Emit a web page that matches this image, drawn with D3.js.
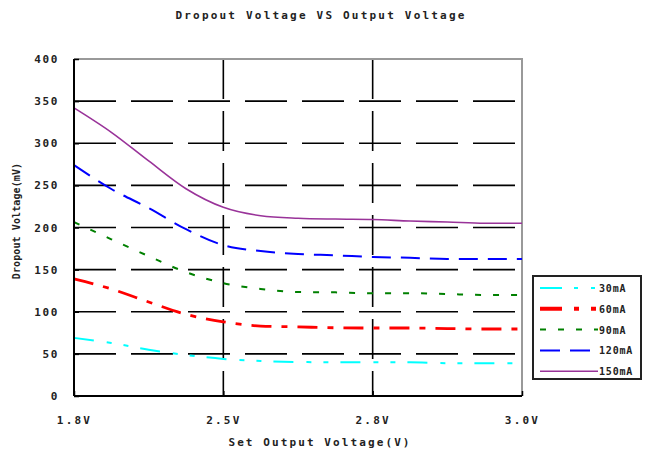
<!DOCTYPE html>
<html><head><meta charset="utf-8">
<script src="https://cdn.jsdelivr.net/npm/d3@7"></script>
<style>
html,body{margin:0;padding:0;background:#fff;}
text{font-family:"DejaVu Sans Mono","Liberation Mono",monospace;font-weight:bold;fill:#222;}
</style></head>
<body><svg id="c" width="646" height="456"></svg>
<script>
// ---- data ----
const xIndex = [0,1,2,3,4,5,6,7,8,9,10,11,12];
const xTickIdx = [0,4,8,12];
const xTickLabels = ["1.8V","2.5V","2.8V","3.0V"];
const yTicks = [0,50,100,150,200,250,300,350,400];
const seriesNames = ["30mA","60mA","90mA","120mA","150mA"];
const s30  = [69,63,55,48.7,44,41.5,40.4,40,40,40,39,39,39];
const s60  = [139,127,111.6,97,88,83,82,81,80.7,80.7,80,79.5,79.5];
const s90  = [206.5,186,166,147,134,127,123.4,123,122,122,121,120,120];
const s120 = [274,245.7,223,198,179,172,168.5,167,165,164,162.6,162.6,162.6];
const s150 = [342,313,279,246,224,214,211,210,209.5,207.7,206.5,205,205];
const allSeries = [s30,s60,s90,s120,s150];

// ---- styles ----
const styles = [
  {color:"#00ffff", w:2,   dash:"20,13,5,12,5,12"},
  {color:"#ff0000", w:2.8, dash:"20,10,6,10"},
  {color:"#008000", w:2,   dash:"6,12"},
  {color:"#0000ff", w:2,   dash:"19,10"},
  {color:"#993399", w:1.6, dash:null}
];

const svg = d3.select("#c");
const L=74, R=522, T=59, B=396;
const x = d3.scaleLinear().domain([0,12]).range([L,R]);
const y = d3.scaleLinear().domain([0,400]).range([B,T]);

// title
svg.append("text").attr("x",321).attr("y",19).attr("text-anchor","middle")
  .style("font-size","11px").style("letter-spacing","2.2px")
  .text("Dropout Voltage VS  Output Voltage");

// horizontal grid
svg.append("g").selectAll("line").data(yTicks.filter(v=>v>0&&v<400)).join("line")
  .attr("x1",L).attr("x2",R).attr("y1",d=>y(d)).attr("y2",d=>y(d))
  .attr("stroke","#000").attr("stroke-width",1.6).attr("stroke-dasharray","42,15");
// vertical grid
svg.append("g").selectAll("line").data(xTickIdx.slice(1,3)).join("line")
  .attr("x1",d=>x(d)).attr("x2",d=>x(d)).attr("y1",T).attr("y2",B)
  .attr("stroke","#000").attr("stroke-width",1.6).attr("stroke-dasharray","40,12");

// frame top/right gray
svg.append("path").attr("d",`M${L},${T}H${R}V${B}`).attr("fill","none")
  .attr("stroke","#999").attr("stroke-width",2);

// series
const line = d3.line().curve(d3.curveMonotoneX).x((d,i)=>x(xIndex[i])).y(d=>y(d));
allSeries.forEach((s,k)=>{
  const st=styles[k];
  const p=svg.append("path").datum(s).attr("d",line).attr("fill","none")
    .attr("stroke",st.color).attr("stroke-width",st.w);
  if(st.dash) p.attr("stroke-dasharray",st.dash);
});

// axes
const yAxis = d3.axisLeft(y).tickValues(yTicks).tickSize(-5).tickPadding(15).tickFormat(d3.format("d"));
const gy = svg.append("g").attr("transform",`translate(${L},0)`).call(yAxis);
const xAxis = d3.axisBottom(x).tickValues(xTickIdx).tickSize(-5).tickPadding(20)
  .tickFormat((d,i)=>xTickLabels[i]);
const gx = svg.append("g").attr("transform",`translate(0,${B})`).call(xAxis);
[gx,gy].forEach(g=>{
  g.selectAll(".domain").attr("stroke","#000").attr("stroke-width",2);
  g.selectAll(".tick line").attr("stroke","#000").attr("stroke-width",1.5);
  g.selectAll("text").style("font-size","11px").style("font-family","DejaVu Sans Mono").style("font-weight","bold").attr("fill","#222");
});
gy.selectAll("text").style("letter-spacing","1.6px");
gx.selectAll("text").style("letter-spacing","2.2px");
gx.select(".domain").attr("d",`M${L},0H${R}`);
gy.select(".domain").attr("d",`M0,${B}V${T}`);

// axis titles
svg.append("text").attr("x",320).attr("y",446).attr("text-anchor","middle")
  .style("font-size","11px").style("letter-spacing","2.1px").text("Set Output Voltage(V)");
svg.append("text").attr("transform","translate(20,221) rotate(-90)").attr("text-anchor","middle")
  .style("font-size","10px").style("letter-spacing","0.1px").text("Dropout Voltage(mV)");

// legend
const lg = svg.append("g");
lg.append("rect").attr("x",533).attr("y",276).attr("width",108).attr("height",103)
  .attr("fill","#fff").attr("stroke","#222").attr("stroke-width",2);
seriesNames.forEach((n,k)=>{
  const yy = 288 + k*20.8;
  const st=styles[k];
  const l=lg.append("line").attr("x1",540).attr("x2",598).attr("y1",yy).attr("y2",yy)
    .attr("stroke",st.color).attr("stroke-width",k===1?4:st.w);
  if(st.dash) l.attr("stroke-dasharray", k===0?"22,12,4,13,4,13":k===1?"22,12,5,12,5,12":k===2?"6,12":"20,10");
  lg.append("text").attr("x",599).attr("y",yy+4).style("font-size","10px").style("letter-spacing","0.8px").text(n);
});
</script></body></html>
